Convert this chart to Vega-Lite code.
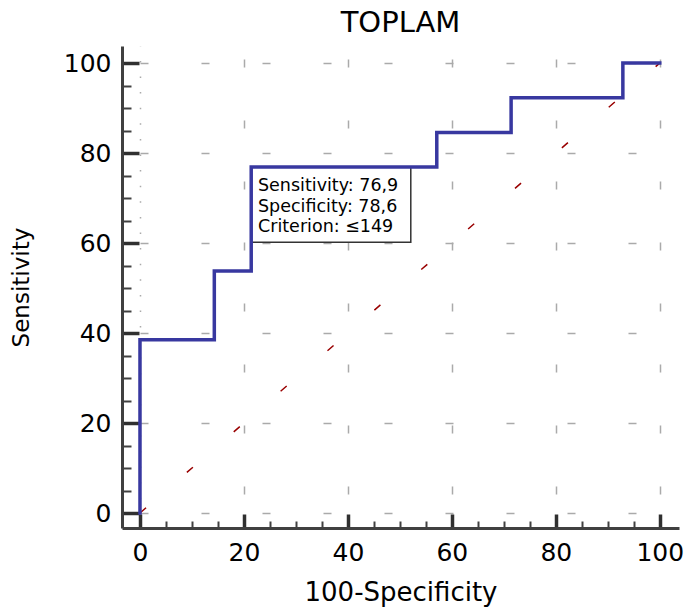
{
  "$schema": "https://vega.github.io/schema/vega-lite/v6.json",
  "width": 557,
  "height": 482,
  "autosize": {"type": "none"},
  "padding": {"left": 122, "top": 46, "right": 9, "bottom": 84},
  "background": "white",
  "title": {"text": "TOPLAM", "font": "DejaVu Sans", "fontSize": 29, "fontWeight": "normal", "color": "black", "anchor": "middle", "offset": 8},
  "config": {"view": {"stroke": null}},
  "resolve": {"axis": {"x": "independent", "y": "independent"}},
  "layer": [
    {
      "data": {"values": [{"x": 0, "y": 0}, {"x": 100, "y": 100}]},
      "mark": {"type": "line", "color": "#990000", "strokeWidth": 1.5, "strokeDash": [8, 54]},
      "encoding": {
        "x": {"field": "x", "type": "quantitative", "scale": {"domain": [-3.46, 103.7], "nice": false, "zero": false},
          "axis": {"orient": "bottom", "values": [0, 20, 40, 60, 80, 100], "title": "100-Specificity", "titleFont": "DejaVu Sans", "titleFontSize": 26, "titleFontWeight": "normal", "titleColor": "black", "titlePadding": 14,
            "labelFont": "DejaVu Sans", "labelFontSize": 25, "labelColor": "black", "labelPadding": 26, "labelFlush": false, "labelOverlap": false,
            "ticks": true, "tickSize": -14, "tickWidth": 3.5, "tickColor": "#303030", "domainColor": "#404040", "domainWidth": 3,
            "grid": true, "gridColor": "#aaaaaa", "gridWidth": 1.5,
            "gridDash": {"condition": {"test": "datum.value === 0", "value": [1.5, 14.1]}, "value": [8, 53]}, "gridDashOffset": 48}},
        "y": {"field": "y", "type": "quantitative", "scale": {"domain": [-3.33, 103.8], "nice": false, "zero": false},
          "axis": {"orient": "left", "values": [0, 20, 40, 60, 80, 100], "title": "Sensitivity", "titleFont": "DejaVu Sans", "titleFontSize": 23, "titleFontWeight": "normal", "titleColor": "black", "titlePadding": 30,
            "labelFont": "DejaVu Sans", "labelFontSize": 25, "labelColor": "black", "labelPadding": 28, "labelFlush": false, "labelOverlap": false,
            "ticks": true, "tickSize": -17, "tickWidth": 3.5, "tickColor": "#303030", "domainColor": "#404040", "domainWidth": 3,
            "grid": true, "gridColor": "#aaaaaa", "gridWidth": 1.5, "gridDash": [8, 53], "gridDashOffset": 43}}
      }
    },
    {
      "data": {"values": [{"x1": 21.4, "x2": 52.1, "y1": 76.9, "y2": 60.2}]},
      "mark": {"type": "rect", "fill": "white", "stroke": "#333333", "strokeWidth": 1.5},
      "encoding": {
        "x": {"field": "x1", "type": "quantitative", "scale": {"domain": [-3.46, 103.7], "nice": false, "zero": false},
          "axis": {"orient": "bottom", "values": [5, 10, 15, 25, 30, 35, 45, 50, 55, 65, 70, 75, 85, 90, 95], "labels": false, "domain": false, "grid": false, "title": null, "tickSize": -7, "tickWidth": 2, "tickColor": "#404040"}},
        "x2": {"field": "x2"},
        "y": {"field": "y1", "type": "quantitative", "scale": {"domain": [-3.33, 103.8], "nice": false, "zero": false},
          "axis": {"orient": "left", "values": [5, 10, 15, 25, 30, 35, 45, 50, 55, 65, 70, 75, 85, 90, 95], "labels": false, "domain": false, "grid": false, "title": null, "tickSize": -9, "tickWidth": 2, "tickColor": "#404040"}},
        "y2": {"field": "y2"}
      }
    },
    {
      "data": {"values": [
        {"i": 0, "x": 0, "y": 0},
        {"i": 1, "x": 0, "y": 38.5},
        {"i": 2, "x": 14.3, "y": 38.5},
        {"i": 3, "x": 14.3, "y": 53.8},
        {"i": 4, "x": 21.4, "y": 53.8},
        {"i": 5, "x": 21.4, "y": 76.9},
        {"i": 6, "x": 57.1, "y": 76.9},
        {"i": 7, "x": 57.1, "y": 84.6},
        {"i": 8, "x": 71.4, "y": 84.6},
        {"i": 9, "x": 71.4, "y": 92.3},
        {"i": 10, "x": 92.9, "y": 92.3},
        {"i": 11, "x": 92.9, "y": 100},
        {"i": 12, "x": 100, "y": 100}
      ]},
      "mark": {"type": "line", "color": "#3838a0", "strokeWidth": 3.5, "strokeCap": "square"},
      "encoding": {
        "x": {"field": "x", "type": "quantitative", "scale": {"domain": [-3.46, 103.7], "nice": false, "zero": false}, "axis": null},
        "y": {"field": "y", "type": "quantitative", "scale": {"domain": [-3.33, 103.8], "nice": false, "zero": false}, "axis": null},
        "order": {"field": "i", "type": "quantitative"}
      }
    },
    {
      "data": {"values": [
        {"x": 22.7, "y": 71.6, "label": "Sensitivity: 76,9"},
        {"x": 22.7, "y": 67.0, "label": "Specificity: 78,6"},
        {"x": 22.7, "y": 62.5, "label": "Criterion: ≤149"}
      ]},
      "mark": {"type": "text", "align": "left", "baseline": "alphabetic", "font": "DejaVu Sans", "fontSize": 17.5, "color": "black"},
      "encoding": {
        "x": {"field": "x", "type": "quantitative", "scale": {"domain": [-3.46, 103.7], "nice": false, "zero": false}, "axis": null},
        "y": {"field": "y", "type": "quantitative", "scale": {"domain": [-3.33, 103.8], "nice": false, "zero": false}, "axis": null},
        "text": {"field": "label"}
      }
    }
  ]
}
